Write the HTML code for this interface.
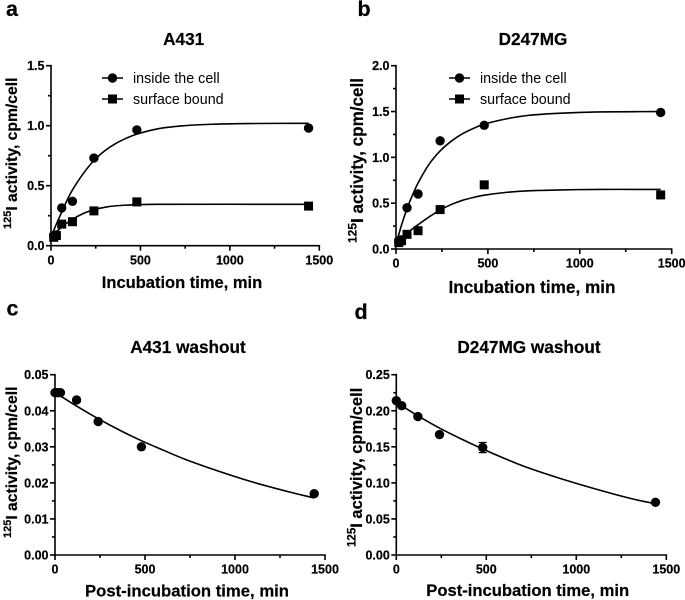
<!DOCTYPE html>
<html lang="en">
<head>
<meta charset="utf-8">
<title>125I activity time courses</title>
<style>
html,body{margin:0;padding:0;background:#fff;width:685px;height:600px;overflow:hidden}
svg{display:block}
text{font-family:"Liberation Sans",Arial,sans-serif;fill:#000}
.b{font-weight:bold;stroke:#000;stroke-width:0.2px}
</style>
</head>
<body>
<svg id="fig" width="685" height="600" viewBox="0 0 685 600" xmlns="http://www.w3.org/2000/svg">
<defs><filter id="soft" x="-2%" y="-2%" width="104%" height="104%"><feGaussianBlur stdDeviation="0.3"/></filter></defs>
<g id="root" filter="url(#soft)"></g>
</svg>
<script>
// Shared x axis
const xTicksLabelled = [0, 500, 1000, 1500];
const xTicksMinor = [250, 750, 1250];

// Panel a: A431
const aTicks = [0, 0.5, 1.0, 1.5];
const aTickLabels = ['0.0', '0.5', '1.0', '1.5'];
const aMinor = [0.25, 0.75, 1.25];
const aInsideT = [15, 30, 60, 120, 240, 480, 1440];
const aInsideV = [0.08, 0.09, 0.315, 0.37, 0.73, 0.965, 0.98];
const aSurfaceT = [15, 30, 60, 120, 240, 480, 1440];
const aSurfaceV = [0.07, 0.085, 0.18, 0.2, 0.29, 0.365, 0.33];
const aInsideFitT = [0, 30, 60, 90, 120, 180, 240, 300, 360, 420, 480, 600, 720, 900, 1100, 1440];
const aInsideFitV = [0.07, 0.18, 0.28, 0.38, 0.465, 0.6, 0.71, 0.79, 0.85, 0.895, 0.93, 0.975, 0.997, 1.012, 1.018, 1.02];
const aSurfaceFitT = [0, 30, 60, 90, 120, 180, 240, 300, 360, 480, 600, 1440];
const aSurfaceFitV = [0.07, 0.115, 0.155, 0.19, 0.22, 0.268, 0.3, 0.32, 0.332, 0.342, 0.345, 0.345];

// Panel b: D247MG
const bTicks = [0, 0.5, 1.0, 1.5, 2.0];
const bTickLabels = ['0.0', '0.5', '1.0', '1.5', '2.0'];
const bMinor = [0.25, 0.75, 1.25, 1.75];
const bInsideT = [15, 30, 60, 120, 240, 480, 1440];
const bInsideV = [0.08, 0.1, 0.45, 0.6, 1.18, 1.35, 1.49];
const bSurfaceT = [15, 30, 60, 120, 240, 480, 1440];
const bSurfaceV = [0.07, 0.09, 0.16, 0.2, 0.43, 0.7, 0.59];
const bInsideFitT = [0, 30, 60, 90, 120, 180, 240, 300, 360, 420, 480, 600, 720, 900, 1100, 1440];
const bInsideFitV = [0.05, 0.26, 0.44, 0.59, 0.72, 0.925, 1.07, 1.175, 1.255, 1.315, 1.362, 1.42, 1.458, 1.482, 1.495, 1.5];
const bSurfaceFitT = [0, 30, 60, 90, 120, 180, 240, 300, 360, 420, 480, 600, 720, 900, 1100, 1440];
const bSurfaceFitV = [0.07, 0.125, 0.175, 0.22, 0.265, 0.35, 0.425, 0.485, 0.53, 0.562, 0.587, 0.618, 0.635, 0.645, 0.65, 0.65];

// Panel c: A431 washout
const cTicks = [0, 0.01, 0.02, 0.03, 0.04, 0.05];
const cTickLabels = ['0.00', '0.01', '0.02', '0.03', '0.04', '0.05'];
const cMinor = [0.005, 0.015, 0.025, 0.035, 0.045];
const cCellT = [0, 15, 30, 120, 240, 480, 1440];
const cCellV = [0.045, 0.045, 0.045, 0.043, 0.037, 0.03, 0.017];
const cFitT = [0, 30, 120, 240, 360, 480, 600, 720, 900, 1100, 1300, 1440];
const cFitV = [0.045, 0.0441, 0.0413, 0.0378, 0.0346, 0.0317, 0.0291, 0.0266, 0.0234, 0.0202, 0.0175, 0.0158];

// Panel d: D247MG washout
const dTicks = [0, 0.05, 0.1, 0.15, 0.2, 0.25];
const dTickLabels = ['0.00', '0.05', '0.10', '0.15', '0.20', '0.25'];
const dMinor = [0.025, 0.075, 0.125, 0.175, 0.225];
const dCellT = [0, 30, 120, 240, 480, 1440];
const dCellV = [0.214, 0.207, 0.192, 0.167, 0.149, 0.073];
const dCellErr = [0, 0, 0, 0, 0.007, 0];
const dFitT = [0, 30, 120, 240, 360, 480, 600, 720, 900, 1100, 1300, 1440];
const dFitV = [0.212, 0.207, 0.193, 0.176, 0.161, 0.147, 0.134, 0.122, 0.107, 0.092, 0.0785, 0.071];

const NS = 'http://www.w3.org/2000/svg';
const root = document.getElementById('root');

function make(tag, parent, attrs) {
  const el = document.createElementNS(NS, tag);
  for (const k in attrs) el.setAttribute(k, attrs[k]);
  parent.appendChild(el);
  return el;
}

function fitPath(ts, vs, sx, sy) {
  const p = ts.map((t, i) => [sx(t), sy(vs[i])]);
  let d = 'M' + p[0][0].toFixed(2) + ' ' + p[0][1].toFixed(2);
  for (let i = 0; i < p.length - 1; i++) {
    const p0 = p[Math.max(i - 1, 0)], p1 = p[i], p2 = p[i + 1], p3 = p[Math.min(i + 2, p.length - 1)];
    const h = p2[0] - p1[0];
    const m1 = (p2[1] - p0[1]) / ((p2[0] - p0[0]) || 1);
    const m2 = (p3[1] - p1[1]) / ((p3[0] - p1[0]) || 1);
    d += 'C' + (p1[0] + h / 3).toFixed(2) + ' ' + (p1[1] + m1 * h / 3).toFixed(2) + ' ' +
         (p2[0] - h / 3).toFixed(2) + ' ' + (p2[1] - m2 * h / 3).toFixed(2) + ' ' +
         p2[0].toFixed(2) + ' ' + p2[1].toFixed(2);
  }
  return d;
}

function drawCircle(g, cx, cy) {
  const el = make('circle', g, {cx: cx, cy: cy, r: 4.7, fill: '#000'});
  
  
  return el;
}

function drawSquare(g, cx, cy) {
  const el = make('rect', g, {x: cx - 4.5, y: cy - 4.5, width: 9, height: 9, fill: '#000'});
  
  
  return el;
}

function drawPanel(cfg) {
  const g = make('g', root, {});
  
  
  const sx = t => cfg.x0 + (cfg.x1 - cfg.x0) * t / 1500;
  const sy = v => cfg.y0 + (cfg.y1 - cfg.y0) * v / cfg.yMax;

  const letter = make('text', g, {x: cfg.letterX, y: cfg.letterY, class: 'b', 'font-size': 21.5});
  letter.textContent = cfg.id;
  
  

  const title = make('text', g, {x: cfg.titleX, y: cfg.titleY, class: 'b', 'font-size': 17.2, 'text-anchor': 'middle'});
  title.textContent = cfg.title;
  
  

  const axes = make('g', g, {stroke: '#000', 'stroke-width': 1.6, fill: 'none'});
  
  
  make('line', axes, {x1: cfg.x0, x2: cfg.x1 + 0.8, y1: cfg.y0, y2: cfg.y0});
  make('line', axes, {x1: cfg.x0, x2: cfg.x0, y1: cfg.y0 + 0.8, y2: cfg.y1 - 0.8});

  xTicksLabelled.forEach(t => {
    make('line', axes, {x1: sx(t), x2: sx(t), y1: cfg.y0, y2: cfg.y0 + 5});
    const l = make('text', g, {x: sx(t), y: cfg.y0 + 18.7, class: 'b', 'font-size': 12.5, 'text-anchor': 'middle'});
    l.textContent = String(t);
    
    
  });
  xTicksMinor.forEach(t => {
    make('line', axes, {x1: sx(t), x2: sx(t), y1: cfg.y0, y2: cfg.y0 + 3});
  });
  cfg.ticks.forEach((v, i) => {
    make('line', axes, {x1: cfg.x0 - 5, x2: cfg.x0, y1: sy(v), y2: sy(v)});
    const l = make('text', g, {x: cfg.x0 - 6.5, y: sy(v) + 4.5, class: 'b', 'font-size': 12.5, 'text-anchor': 'end'});
    l.textContent = cfg.tickLabels[i];
    
    
  });
  cfg.minor.forEach(v => {
    make('line', axes, {x1: cfg.x0 - 3, x2: cfg.x0, y1: sy(v), y2: sy(v)});
  });

  const xt = make('text', g, {x: cfg.xTitleX, y: cfg.xTitleY, class: 'b', 'font-size': cfg.xTitleSize, 'text-anchor': 'middle'});
  xt.textContent = cfg.xTitle;
  
  

  const yt = make('text', g, {class: 'b', 'font-size': cfg.yTitleSize, transform: 'translate(' + cfg.yTitleX + ' ' + cfg.yTitleY + ') rotate(-90)'});
  
  
  const sup = make('tspan', yt, {'font-size': cfg.yTitleSize * 0.7, dy: -cfg.yTitleSize * 0.38});
  sup.textContent = '125';
  const rest = make('tspan', yt, {dy: cfg.yTitleSize * 0.38});
  rest.textContent = 'I activity, cpm/cell';

  cfg.series.forEach(s => {
    const sg = make('g', g, {});
    
    
    const path = make('path', sg, {d: fitPath(s.fitT, s.fitV, sx, sy), fill: 'none', stroke: '#000', 'stroke-width': 1.6});
    
    
    s.t.forEach((t, i) => {
      if (s.err && s.err[i]) {
        const e = make('path', sg, {
          d: 'M' + sx(t) + ' ' + sy(s.v[i] - s.err[i]) + 'V' + sy(s.v[i] + s.err[i]) +
             'M' + (sx(t) - 4) + ' ' + sy(s.v[i] - s.err[i]) + 'h8' +
             'M' + (sx(t) - 4) + ' ' + sy(s.v[i] + s.err[i]) + 'h8',
          stroke: '#000', 'stroke-width': 1.3, fill: 'none'
        });
        
        
      }
      (s.marker === 'square' ? drawSquare : drawCircle)(sg, sx(t), sy(s.v[i]));
    });
  });

  if (cfg.legendX !== undefined) {
    const lg = make('g', g, {});
    
    
    [['inside the cell', 78, drawCircle], ['surface bound', 99, drawSquare]].forEach(row => {
      make('line', lg, {x1: cfg.legendX, x2: cfg.legendX + 21, y1: row[1], y2: row[1], stroke: '#000', 'stroke-width': 1.5});
      row[2](lg, cfg.legendX + 10.5, row[1]);
      const t = make('text', lg, {x: cfg.legendX + 31, y: row[1] + 5, 'font-size': 14.3});
      t.textContent = row[0];
      
      
    });
  }
}

drawPanel({
  id: 'a', title: 'A431', xTitle: 'Incubation time, min',
  x0: 51, x1: 319.3, y0: 245.7, y1: 65.7, yMax: 1.5,
  ticks: aTicks, tickLabels: aTickLabels, minor: aMinor,
  letterX: 6, letterY: 16, titleX: 183.7, titleY: 45,
  xTitleX: 182, xTitleY: 288, xTitleSize: 16.5,
  yTitleX: 17, yTitleY: 229, yTitleSize: 15.7, legendX: 102,
  series: [
    {name: 'inside-the-cell', marker: 'circle', t: aInsideT, v: aInsideV, fitT: aInsideFitT, fitV: aInsideFitV},
    {name: 'surface-bound', marker: 'square', t: aSurfaceT, v: aSurfaceV, fitT: aSurfaceFitT, fitV: aSurfaceFitV}
  ]
});

drawPanel({
  id: 'b', title: 'D247MG', xTitle: 'Incubation time, min',
  x0: 396, x1: 671.7, y0: 249, y1: 65.7, yMax: 2.0,
  ticks: bTicks, tickLabels: bTickLabels, minor: bMinor,
  letterX: 357.5, letterY: 16, titleX: 533, titleY: 45,
  xTitleX: 532, xTitleY: 293, xTitleSize: 17.2,
  yTitleX: 363, yTitleY: 243, yTitleSize: 17.1, legendX: 449,
  series: [
    {name: 'inside-the-cell', marker: 'circle', t: bInsideT, v: bInsideV, fitT: bInsideFitT, fitV: bInsideFitV},
    {name: 'surface-bound', marker: 'square', t: bSurfaceT, v: bSurfaceV, fitT: bSurfaceFitT, fitV: bSurfaceFitV}
  ]
});

drawPanel({
  id: 'c', title: 'A431 washout', xTitle: 'Post-incubation time, min',
  x0: 55, x1: 325, y0: 555, y1: 374.7, yMax: 0.05,
  ticks: cTicks, tickLabels: cTickLabels, minor: cMinor,
  letterX: 6.5, letterY: 315.5, titleX: 188, titleY: 353,
  xTitleX: 187, xTitleY: 596.5, xTitleSize: 16.7,
  yTitleX: 17, yTitleY: 538, yTitleSize: 15.7,
  series: [
    {name: 'cell-activity', marker: 'circle', t: cCellT, v: cCellV, fitT: cFitT, fitV: cFitV}
  ]
});

drawPanel({
  id: 'd', title: 'D247MG washout', xTitle: 'Post-incubation time, min',
  x0: 396.3, x1: 666.3, y0: 555, y1: 374.7, yMax: 0.25,
  ticks: dTicks, tickLabels: dTickLabels, minor: dMinor,
  letterX: 354.5, letterY: 319, titleX: 529, titleY: 353,
  xTitleX: 527.7, xTitleY: 596, xTitleSize: 16.6,
  yTitleX: 362, yTitleY: 547, yTitleSize: 16.5,
  series: [
    {name: 'cell-activity', marker: 'circle', t: dCellT, v: dCellV, err: dCellErr, fitT: dFitT, fitV: dFitV}
  ]
});
</script>
</body>
</html>
